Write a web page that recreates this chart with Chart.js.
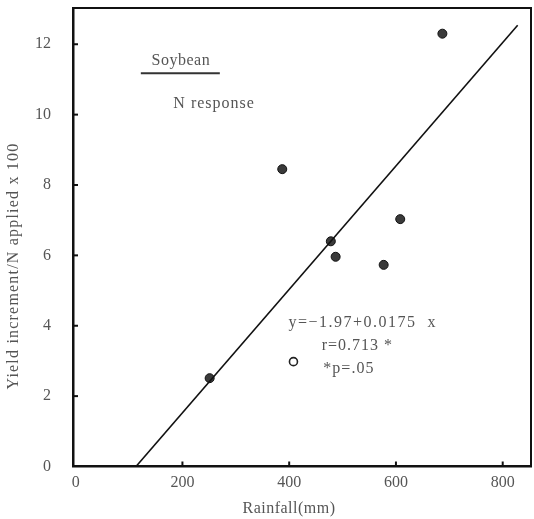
<!DOCTYPE html>
<html>
<head>
<meta charset="utf-8">
<script src="https://cdn.jsdelivr.net/npm/chart.js@4/dist/chart.umd.min.js"></script>
<style>
  html, body { margin: 0; padding: 0; background: #fff; }
  #wrap { width: 534px; height: 519px; }
</style>
</head>
<body>
<div id="wrap"><canvas id="chart" width="534" height="519"></canvas></div>
<script>
// observed points (rainfall mm, yield increment / N applied x 100)
const rainfall = [687, 387, 478, 487, 608, 577, 251];
const yieldInc = [12.3, 8.45, 6.4, 5.96, 7.03, 5.73, 2.51];
// the one open-circle point
const openRain = [408];
const openYield = [2.98];
// fitted line y = -1.97 + 0.0175 x, end points as drawn
const fitRain = [113, 828];
const fitYield = [0, 12.54];

const xTicks = [0, 200, 400, 600, 800];
const yTicks = [0, 2, 4, 6, 8, 10, 12];

const serif = '"Liberation Serif", "DejaVu Serif", serif';
const grey = '#555';

const toPts = (xs, ys) => xs.map((x, i) => ({ x, y: ys[i] }));

// inward ticks, frame, axis titles and the text notes
const extras = {
    id: 'extras',
    afterDraw(chart) {
        const { ctx, chartArea: a, scales: { x, y } } = chart;
        ctx.save();
        ctx.strokeStyle = '#111';
        ctx.lineWidth = 2;
        // top and right frame
        ctx.beginPath();
        ctx.moveTo(a.left, a.top);
        ctx.lineTo(a.right, a.top);
        ctx.lineTo(a.right, a.bottom);
        ctx.stroke();
        // ticks pointing into the plot
        xTicks.slice(1).forEach(v => {
            const px = x.getPixelForValue(v);
            ctx.beginPath();
            ctx.moveTo(px, a.bottom);
            ctx.lineTo(px, a.bottom - 5);
            ctx.stroke();
        });
        yTicks.slice(1).forEach(v => {
            const py = y.getPixelForValue(v);
            ctx.beginPath();
            ctx.moveTo(a.left, py);
            ctx.lineTo(a.left + 5, py);
            ctx.stroke();
        });

        ctx.fillStyle = grey;
        ctx.textBaseline = 'middle';
        ctx.font = '16px ' + serif;

        // axis titles
        ctx.textAlign = 'center';
        ctx.letterSpacing = '0.5px';
        ctx.fillText('Rainfall(mm)', 289, 509);
        ctx.save();
        ctx.translate(14, 266);
        ctx.rotate(-Math.PI / 2);
        ctx.letterSpacing = '1.2px';
        ctx.fillText('Yield increment/N applied x 100', 0, 0);
        ctx.restore();

        ctx.letterSpacing = '0.5px';
        const sx = x.getPixelForValue(197), sy = y.getPixelForValue(11.53);
        ctx.fillText('Soybean', sx, sy);
        ctx.strokeStyle = '#333';
        ctx.lineWidth = 2;
        ctx.beginPath();
        ctx.moveTo(sx - 40, sy + 12.5);
        ctx.lineTo(sx + 39, sy + 12.5);
        ctx.stroke();

        ctx.textAlign = 'left';
        ctx.letterSpacing = '1px';
        ctx.fillText('N response', x.getPixelForValue(183), y.getPixelForValue(10.32));
        ctx.letterSpacing = '1.5px';
        ctx.fillText('y=\u22121.97+0.0175  x', x.getPixelForValue(398.5), y.getPixelForValue(4.07));
        ctx.letterSpacing = '1px';
        ctx.fillText('r=0.713 *', x.getPixelForValue(461), y.getPixelForValue(3.42));
        ctx.fillText('*p=.05', x.getPixelForValue(464), y.getPixelForValue(2.79));
        ctx.restore();
    }
};

new Chart(document.getElementById('chart'), {
    type: 'scatter',
    data: {
        datasets: [
            {
                label: 'fit',
                type: 'line',
                data: toPts(fitRain, fitYield),
                borderColor: '#111',
                borderWidth: 1.6,
                pointRadius: 0,
                fill: false
            },
            {
                label: 'N response',
                data: toPts(rainfall, yieldInc),
                backgroundColor: '#3a3a3a',
                borderColor: '#111',
                borderWidth: 1,
                pointRadius: 4.5
            },
            {
                label: 'open',
                data: toPts(openRain, openYield),
                backgroundColor: '#fff',
                borderColor: '#222',
                borderWidth: 1.6,
                pointRadius: 4
            }
        ]
    },
    options: {
        responsive: false,
        animation: false,
        layout: { autoPadding: false, padding: { top: 8, right: 3, left: 0, bottom: 0 } },
        plugins: {
            legend: { display: false },
            tooltip: { enabled: false }
        },
        scales: {
            x: {
                type: 'linear',
                min: -5,
                max: 853,
                afterBuildTicks: s => { s.ticks = xTicks.map(v => ({ value: v })); },
                afterFit: s => {
                    s.height = 52.5;
                    s.paddingLeft = 0;
                    s.paddingRight = 0;
                },
                grid: { display: false, drawTicks: false },
                border: { display: true, color: '#111', width: 2.5 },
                ticks: {
                    color: grey,
                    padding: 7,
                    maxRotation: 0,
                    font: { family: serif, size: 16 }
                },
                title: { display: false }
            },
            y: {
                type: 'linear',
                min: 0,
                max: 13.03,
                afterBuildTicks: s => { s.ticks = yTicks.map(v => ({ value: v })); },
                afterFit: s => {
                    s.width = 73;
                    s.paddingTop = 0;
                    s.paddingBottom = 0;
                },
                grid: { display: false, drawTicks: false },
                border: { display: true, color: '#111', width: 2.5 },
                ticks: {
                    color: grey,
                    padding: 22,
                    font: { family: serif, size: 16 }
                },
                title: { display: false }
            }
        }
    },
    plugins: [extras]
});
</script>
</body>
</html>
